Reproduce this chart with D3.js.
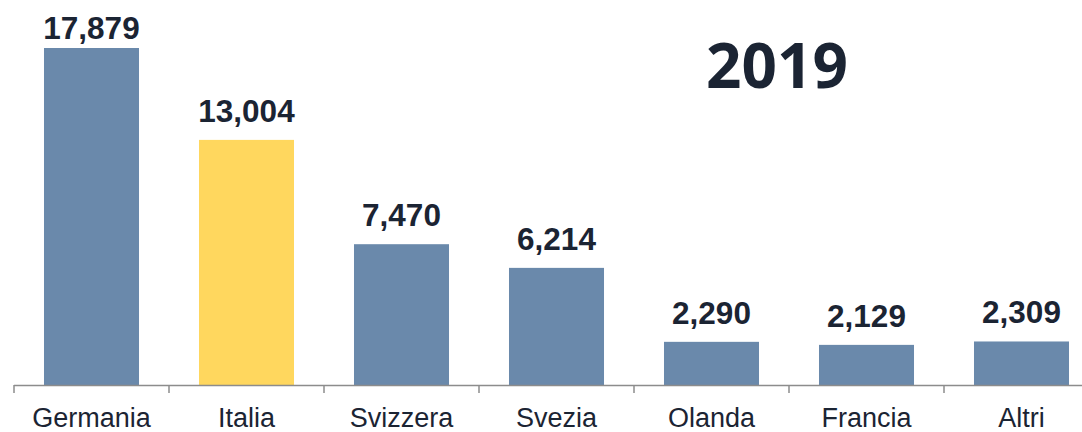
<!DOCTYPE html>
<html>
<head>
<meta charset="utf-8">
<script src="https://d3js.org/d3.v7.min.js"></script>
<style>
  body { margin: 0; background: #fff; }
</style>
</head>
<body>
<div id="chart"></div>
<script>
    // data
    var countries = ["Germania", "Italia", "Svizzera", "Svezia", "Olanda", "Francia", "Altri"];
    var values = [17879, 13004, 7470, 6214, 2290, 2129, 2309];
    var highlight = "Italia";
    var title = "2019";

    var width = 1082, height = 432;
    var baseline = 385;

    var svg = d3.select("#chart")
        .append("svg")
        .attr("width", width)
        .attr("height", height);

    var x = d3.scaleBand()
        .domain(countries)
        .range([14, 1099])
        .paddingInner(0.387)
        .paddingOuter(0.1935);

    var y = d3.scaleLinear()
        .domain([0, 17879])
        .range([baseline, 48]);

    var data = countries.map(function(c, i) { return { name: c, value: values[i] }; });

    // bars
    svg.selectAll(".bar")
        .data(data)
        .enter().append("rect")
        .attr("class", "bar")
        .attr("x", d => x(d.name))
        .attr("y", d => y(d.value))
        .attr("width", x.bandwidth())
        .attr("height", d => baseline - y(d.value))
        .attr("fill", d => d.name == highlight ? "#ffd75e" : "#6a89ab");

    // value labels (the tallest one is pushed down against the top edge)
    svg.selectAll(".val")
        .data(data)
        .enter().append("text")
        .attr("x", d => x(d.name) + x.bandwidth() / 2)
        .attr("y", d => Math.max(y(d.value) - 18, 39))
        .attr("text-anchor", "middle")
        .style("font-family", "'Liberation Sans', Arial, sans-serif")
        .style("font-weight", "bold")
        .style("font-size", "31.5px")
        .style("fill", "#1b2433")
        .text(d => d3.format(",")(d.value));

    // axis line and ticks between categories
    var axis = svg.append("g");
    axis.append("line")
        .attr("x1", 14).attr("x2", width)
        .attr("y1", baseline + 0.5).attr("y2", baseline + 0.5)
        .attr("stroke", "#8c8c8c")
        .attr("stroke-width", 1.5);
    axis.selectAll(".tick")
        .data(d3.range(countries.length + 1))
        .enter().append("line")
        .attr("x1", i => 14 + i * x.step())
        .attr("x2", i => 14 + i * x.step())
        .attr("y1", baseline)
        .attr("y2", baseline + 8)
        .attr("stroke", "#8c8c8c")
        .attr("stroke-width", 1.5);

    // category labels
    svg.selectAll(".cat")
        .data(countries)
        .enter().append("text")
        .attr("x", d => x(d) + x.bandwidth() / 2)
        .attr("y", 427)
        .attr("text-anchor", "middle")
        .style("font-family", "'Liberation Sans', Arial, sans-serif")
        .style("font-size", "27px")
        .style("fill", "#1b2433")
        .text(d => d);

    // year title
    svg.append("text")
        .attr("x", 777)
        .attr("y", 88)
        .attr("text-anchor", "middle")
        .style("font-family", "'Open Sans', sans-serif")
        .style("font-weight", "bold")
        .style("font-size", "62px")
        .style("fill", "#1b2433")
        .text(title);
</script>
</body>
</html>
